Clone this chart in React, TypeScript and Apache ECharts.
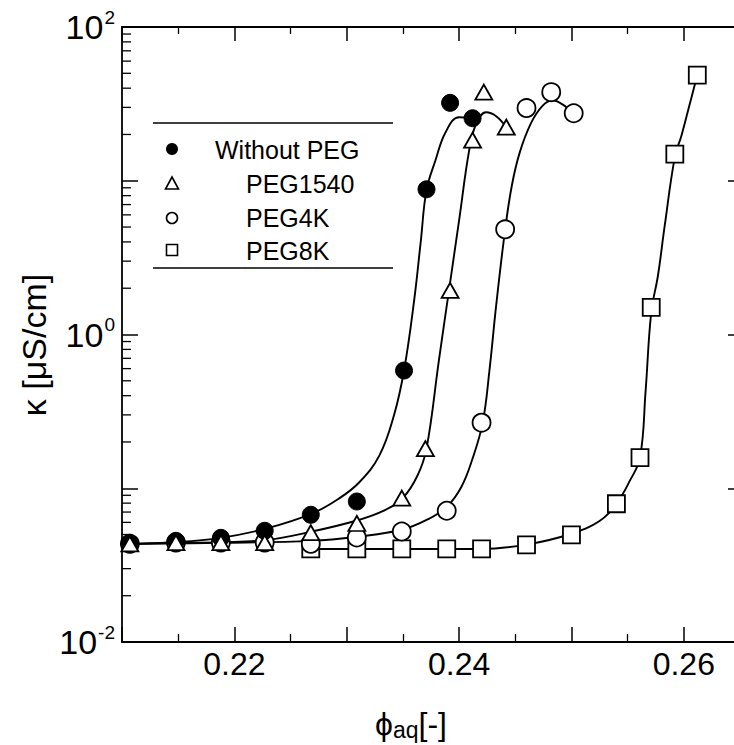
import React, { useEffect, useRef } from "react";
import * as echarts from "echarts";

// ---- measured data (phi_aq [-], kappa [uS/cm]) ----
const noPegPhi = [0.2107, 0.2148, 0.2188, 0.2227, 0.2268, 0.2309, 0.2351, 0.2371, 0.2392, 0.2412];
const noPegK = [0.0435, 0.0455, 0.0476, 0.0529, 0.0672, 0.082, 0.583, 8.8, 32.1, 25.5];

const peg1540Phi = [0.2107, 0.2148, 0.2188, 0.2227, 0.2268, 0.2309, 0.2349, 0.237, 0.2392, 0.2412, 0.2422, 0.2442];
const peg1540K = [0.0435, 0.0443, 0.0443, 0.0443, 0.0515, 0.059, 0.0862, 0.181, 1.935, 18.4, 37.7, 22.3];

const peg4kPhi = [0.2107, 0.2148, 0.2188, 0.2227, 0.2268, 0.2309, 0.2349, 0.2389, 0.242, 0.2441, 0.246, 0.2482, 0.2502];
const peg4kK = [0.0435, 0.0443, 0.0443, 0.0443, 0.0435, 0.0478, 0.0523, 0.0714, 0.267, 4.83, 29.7, 37.7, 27.5];

const peg8kPhi = [0.2268, 0.2309, 0.2349, 0.2389, 0.242, 0.246, 0.25, 0.254, 0.2561, 0.2571, 0.2592, 0.2612];
const peg8kK = [0.0403, 0.0403, 0.0403, 0.0403, 0.0403, 0.0428, 0.0498, 0.0793, 0.158, 1.5, 14.9, 48.7];

// ---- fitted curves ----
const fitNoPegPhi = [0.2106, 0.2148, 0.2188, 0.2228, 0.2269, 0.2293, 0.2311, 0.2329, 0.2342, 0.2351, 0.236, 0.2366, 0.2371, 0.2379, 0.2388, 0.24, 0.2412];
const fitNoPegK = [0.0435, 0.0446, 0.0476, 0.0546, 0.0684, 0.0856, 0.109, 0.163, 0.297, 0.583, 1.665, 4.1, 8.69, 13.6, 20.7, 25.9, 25.5];

const fit1540Phi = [0.2106, 0.2148, 0.2188, 0.2228, 0.2269, 0.2309, 0.2333, 0.235, 0.2363, 0.2371, 0.2382, 0.2391, 0.24, 0.2409, 0.2415, 0.2424, 0.2433, 0.2442];
const fit1540K = [0.0435, 0.0441, 0.0446, 0.046, 0.0523, 0.0617, 0.0715, 0.0866, 0.121, 0.181, 0.677, 1.935, 5.53, 15.8, 23.3, 27.9, 26.3, 22.3];

const fit4kPhi = [0.2106, 0.2188, 0.2269, 0.2309, 0.2349, 0.2373, 0.2389, 0.2402, 0.2412, 0.2421, 0.2427, 0.2433, 0.2441, 0.2447, 0.2454, 0.2464, 0.2474, 0.2483, 0.2492, 0.2502];
const fit4kK = [0.0435, 0.0441, 0.0455, 0.0484, 0.0537, 0.0632, 0.0757, 0.102, 0.156, 0.267, 0.583, 1.545, 4.83, 9.35, 15.3, 23.7, 30.6, 33.4, 31.4, 27.5];

const fit8kPhi = [0.2268, 0.242, 0.246, 0.25, 0.2525, 0.254, 0.2552, 0.2561, 0.2566, 0.2571, 0.2577, 0.2583, 0.2592, 0.2598, 0.2605, 0.2612];
const fit8kK = [0.0403, 0.0403, 0.043, 0.0506, 0.0612, 0.0793, 0.112, 0.158, 0.43, 1.39, 2.42, 5.1, 14.25, 19.8, 31.0, 48.7];

// ---- axis ticks ----
const xLabelValues = [0.22, 0.24, 0.26];
const yLabelExponents = [-2, 0, 2];
const minorMantissas = [2, 3, 4, 5, 6, 7, 8, 9];
const decades = [-2, -1, 0, 1];

const legendNames = ["Without PEG", "PEG1540", "PEG4K", "PEG8K"];

const FONT = "'Liberation Sans', Arial, Helvetica, sans-serif";
const X_MIN = 0.21;
const X_MAX = 0.265;

const zip = (a: number[], b: number[]) => a.map((v, i) => [v, b[i]]);

export default function App() {
  const ref = useRef<HTMLDivElement>(null);

  useEffect(() => {
    if (!ref.current) return;
    const chart = echarts.init(ref.current, null, { renderer: "svg" });

    const minorTickData: number[][] = [];
    decades.forEach((d) => minorMantissas.forEach((m) => minorTickData.push([X_MIN, m * Math.pow(10, d)])));

    const lineStyle = { color: "#000", width: 1.9 };
    const fitSeries = (data: number[][]) => ({
      type: "line",
      data,
      smooth: 0.4,
      showSymbol: false,
      symbol: "none",
      lineStyle,
      silent: true,
      z: 2,
    });

    const openItem = { color: "#fff", borderColor: "#000", borderWidth: 1.8, opacity: 1 };

    const xAxisCommon = {
      type: "value",
      min: X_MIN,
      max: X_MAX,
      interval: 0.01,
      splitLine: { show: false },
      axisLine: { show: true, onZero: false, lineStyle: { color: "#000", width: 1.8 } },
      axisTick: { show: true, inside: true, length: 15, lineStyle: { color: "#000", width: 1.5 } },
      minorTick: { show: true, splitNumber: 2, length: 8, lineStyle: { color: "#000", width: 1.3 } },
    };

    const yAxisCommon = {
      type: "log",
      logBase: 10,
      min: 0.01,
      max: 100,
      interval: 1,
      splitLine: { show: false },
      minorTick: { show: false },
      axisLine: { show: true, lineStyle: { color: "#000", width: 1.8 } },
    };

    chart.setOption({
      animation: false,
      backgroundColor: "#fff",
      grid: { left: 122, right: 20, top: 27, bottom: 103, containLabel: false },
      xAxis: [
        {
          ...xAxisCommon,
          position: "bottom",
          axisLabel: {
            show: true,
            margin: 6,
            fontFamily: FONT,
            fontSize: 32,
            color: "#000",
            formatter: (v: number) => {
              const hit = xLabelValues.find((t) => Math.abs(t - v) < 1e-6);
              return hit !== undefined ? hit.toFixed(2) : "";
            },
          },
        },
        {
          ...xAxisCommon,
          position: "top",
          axisTick: { show: true, inside: true, length: 14, lineStyle: { color: "#000", width: 1.5 } },
          minorTick: { show: true, splitNumber: 2, length: 7, lineStyle: { color: "#000", width: 1.3 } },
          axisLabel: { show: false },
        },
      ],
      yAxis: [
        {
          ...yAxisCommon,
          position: "left",
          axisTick: { show: true, inside: true, length: 16, lineStyle: { color: "#000", width: 1.5 } },
          axisLabel: {
            show: true,
            margin: 7,
            color: "#000",
            fontFamily: FONT,
            formatter: (v: number) => {
              const e = Math.round(Math.log10(v));
              return yLabelExponents.includes(e) ? `{b|10}{s|${e}}` : "";
            },
            rich: {
              b: { fontSize: 34, fontFamily: FONT, color: "#000" },
              s: { fontSize: 19, fontFamily: FONT, color: "#000", padding: [0, 0, 20, 1] },
            },
          },
        },
        {
          ...yAxisCommon,
          position: "right",
          axisTick: { show: true, inside: true, length: 12, lineStyle: { color: "#000", width: 1.5 } },
          axisLabel: { show: false },
        },
      ],
      series: [
        {
          type: "custom",
          name: "minorTicks",
          xAxisIndex: 0,
          yAxisIndex: 0,
          silent: true,
          data: minorTickData,
          renderItem: (_p: any, api: any) => {
            const pt = api.coord([api.value(0), api.value(1)]);
            return {
              type: "line",
              shape: { x1: pt[0], y1: pt[1], x2: pt[0] + 9, y2: pt[1] },
              style: { stroke: "#000", lineWidth: 1.3 },
            };
          },
          z: 1,
        },
        fitSeries(zip(fitNoPegPhi, fitNoPegK)),
        fitSeries(zip(fit1540Phi, fit1540K)),
        fitSeries(zip(fit4kPhi, fit4kK)),
        fitSeries(zip(fit8kPhi, fit8kK)),
        {
          type: "scatter",
          name: legendNames[3],
          data: zip(peg8kPhi, peg8kK),
          symbol: "rect",
          symbolSize: 17,
          itemStyle: openItem,
          z: 5,
        },
        {
          type: "scatter",
          name: legendNames[2],
          data: zip(peg4kPhi, peg4kK),
          symbol: "circle",
          symbolSize: 18,
          itemStyle: openItem,
          z: 6,
        },
        {
          type: "scatter",
          name: legendNames[0],
          data: zip(noPegPhi, noPegK),
          symbol: "circle",
          symbolSize: 17,
          itemStyle: { color: "#000", borderColor: "#000", borderWidth: 1, opacity: 1 },
          z: 7,
        },
        {
          type: "scatter",
          name: legendNames[1],
          data: zip(peg1540Phi, peg1540K),
          symbol: "triangle",
          symbolSize: [17, 15],
          itemStyle: openItem,
          z: 8,
        },
      ],
      graphic: [
        { type: "line", shape: { x1: 153, y1: 123, x2: 393, y2: 123 }, style: { stroke: "#000", lineWidth: 1.7 } },
        { type: "line", shape: { x1: 153, y1: 268, x2: 393, y2: 268 }, style: { stroke: "#000", lineWidth: 1.7 } },
        { type: "circle", shape: { cx: 172, cy: 149, r: 6 }, style: { fill: "#000" } },
        {
          type: "polygon",
          shape: { points: [[172, 177], [165.5, 189], [178.5, 189]] },
          style: { fill: "#fff", stroke: "#000", lineWidth: 1.6 },
        },
        { type: "circle", shape: { cx: 172, cy: 218, r: 5.5 }, style: { fill: "#fff", stroke: "#000", lineWidth: 1.6 } },
        { type: "rect", shape: { x: 166.5, y: 244.5, width: 11, height: 11 }, style: { fill: "#fff", stroke: "#000", lineWidth: 1.6 } },
        { type: "text", x: 215, y: 150, style: { text: legendNames[0], font: `25px ${FONT}`, fill: "#000", verticalAlign: "middle" } },
        { type: "text", x: 246, y: 184, style: { text: legendNames[1], font: `25px ${FONT}`, fill: "#000", verticalAlign: "middle" } },
        { type: "text", x: 246, y: 218, style: { text: legendNames[2], font: `25px ${FONT}`, fill: "#000", verticalAlign: "middle" } },
        { type: "text", x: 246, y: 251, style: { text: legendNames[3], font: `25px ${FONT}`, fill: "#000", verticalAlign: "middle" } },
        {
          type: "text",
          x: 34,
          y: 345,
          rotation: Math.PI / 2,
          style: { text: "κ [μS/cm]", font: `34px ${FONT}`, fill: "#000", align: "center", verticalAlign: "middle" },
        },
        {
          type: "text",
          x: 411,
          y: 724,
          style: {
            text: "{p|ϕ}{a|aq}{p|[-]}",
            align: "center",
            verticalAlign: "middle",
            rich: {
              p: { fontSize: 32, fontFamily: FONT, fill: "#000" },
              a: { fontSize: 23, fontFamily: FONT, fill: "#000", padding: [11, 0, 0, 0] },
            },
          },
        },
      ],
    });

    return () => chart.dispose();
  }, []);

  return (
    <div style={{ position: "absolute", left: 0, top: 0, width: 734, height: 745, overflow: "hidden", background: "#fff" }}>
      <div ref={ref} style={{ width: 760, height: 745 }} />
    </div>
  );
}
